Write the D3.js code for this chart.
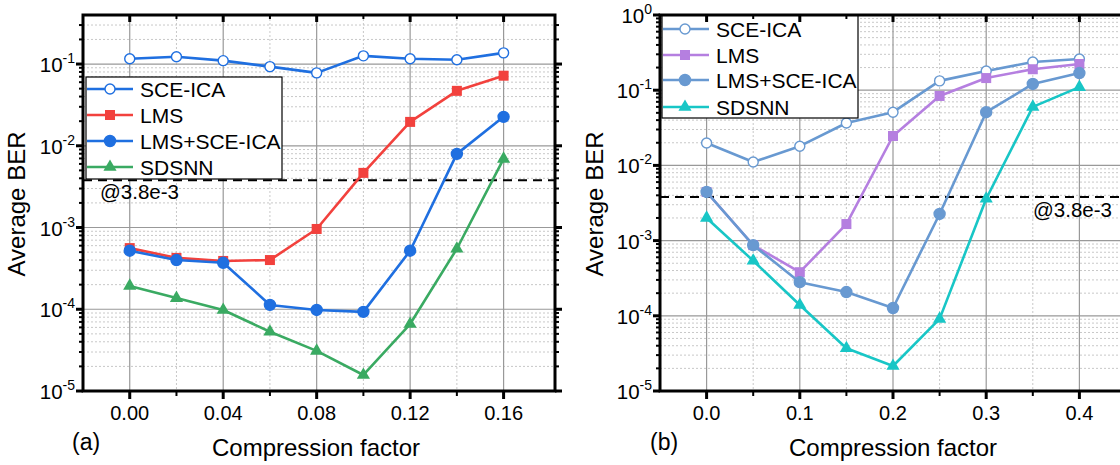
<!DOCTYPE html>
<html><head><meta charset="utf-8">
<script src="https://cdn.jsdelivr.net/npm/d3@7"></script>
<style>body{margin:0;background:#fff}svg{display:block;font-family:"Liberation Sans",Arial,sans-serif}</style>
</head><body>
<svg id="c" width="1120" height="465"></svg>
<script>
// ---- data ----
const seriesNames = ["SCE-ICA", "LMS", "LMS+SCE-ICA", "SDSNN"];
const xA = [0, 0.02, 0.04, 0.06, 0.08, 0.10, 0.12, 0.14, 0.16];
const aSCEICA = [0.116, 0.123, 0.110, 0.093, 0.078, 0.126, 0.116, 0.113, 0.137];
const aLMS = [5.6e-4, 4.25e-4, 3.9e-4, 4.0e-4, 9.6e-4, 4.66e-3, 0.0196, 0.047, 0.072];
const aLMSSCE = [5.2e-4, 4.0e-4, 3.7e-4, 1.13e-4, 9.8e-5, 9.3e-5, 5.2e-4, 7.96e-3, 0.0226];
const aSDSNN = [1.93e-4, 1.37e-4, 9.8e-5, 5.3e-5, 3.1e-5, 1.57e-5, 6.6e-5, 5.5e-4, 6.9e-3];
const xB = [0, 0.05, 0.10, 0.15, 0.20, 0.25, 0.30, 0.35, 0.40];
const bSCEICA = [0.0199, 0.0111, 0.018, 0.0366, 0.051, 0.133, 0.18, 0.237, 0.26];
const bLMS = [4.43e-3, 8.7e-4, 3.8e-4, 1.66e-3, 0.0246, 0.0838, 0.145, 0.19, 0.223];
const bLMSSCE = [4.43e-3, 8.7e-4, 2.8e-4, 2.07e-4, 1.27e-4, 2.26e-3, 0.051, 0.121, 0.169];
const bSDSNN = [2.0e-3, 5.4e-4, 1.39e-4, 3.7e-5, 2.15e-5, 9.1e-5, 3.6e-3, 0.06, 0.11];
const threshold = 3.8e-3;
const thresholdLabel = "@3.8e-3";
const xTicksA = [0, 0.04, 0.08, 0.12, 0.16];
const xMinorA = [0.02, 0.06, 0.10, 0.14];
const xTicksB = [0, 0.1, 0.2, 0.3, 0.4];
const xMinorB = [0.05, 0.15, 0.25, 0.35];
const yExpA = [-5, -4, -3, -2, -1];
const yExpB = [-5, -4, -3, -2, -1, 0];

const svg = d3.select("#c");

function panel(o) {
  const g = svg.append("g");
  const x = d3.scaleLinear().domain(o.xDomain).range([o.left, o.right]);
  const y = d3.scaleLog().domain(o.yDomain).range([o.bottom, o.top]);
  const [lo, hi] = o.yDomain;
  const minorY = [];
  for (let e = Math.floor(Math.log10(lo)); e <= Math.ceil(Math.log10(hi)); e++) {
    for (let k = 2; k <= 9; k++) { const v = k * Math.pow(10, e); if (v > lo && v < hi * 1.0001) minorY.push(v); }
  }
  const majorY = o.yExp.map(e => Math.pow(10, e));
  const cid = "clip" + o.id;
  svg.append("clipPath").attr("id", cid).append("rect")
    .attr("x", o.left).attr("y", o.top).attr("width", o.right - o.left).attr("height", o.bottom - o.top);
  const pg = g.append("g").attr("clip-path", `url(#${cid})`);
  pg.selectAll(".gym").data(minorY).enter().append("line")
    .attr("x1", o.left).attr("x2", o.right).attr("y1", d => y(d)).attr("y2", d => y(d))
    .attr("stroke", "#c8c8c8").attr("stroke-width", 1).attr("stroke-dasharray", "2,2");
  pg.selectAll(".gxm").data(o.xMinor).enter().append("line")
    .attr("y1", o.top).attr("y2", o.bottom).attr("x1", d => x(d)).attr("x2", d => x(d))
    .attr("stroke", "#c8c8c8").attr("stroke-width", 1).attr("stroke-dasharray", "2,2");
  pg.selectAll(".gyM").data(majorY).enter().append("line")
    .attr("x1", o.left).attr("x2", o.right).attr("y1", d => y(d)).attr("y2", d => y(d))
    .attr("stroke", "#999").attr("stroke-width", 1.2);
  pg.selectAll(".gxM").data(o.xTicks).enter().append("line")
    .attr("y1", o.top).attr("y2", o.bottom).attr("x1", d => x(d)).attr("x2", d => x(d))
    .attr("stroke", "#999").attr("stroke-width", 1.2);
  pg.append("line").attr("x1", o.left).attr("x2", o.right)
    .attr("y1", y(threshold)).attr("y2", y(threshold))
    .attr("stroke", "#000").attr("stroke-width", 2).attr("stroke-dasharray", "9,6");
  const line = d3.line().x(d => x(d[0])).y(d => y(d[1]));
  o.series.forEach(s => {
    const pts = o.xs.map((xv, i) => [xv, s.values[i]]);
    pg.append("path").datum(pts).attr("d", line).attr("fill", "none")
      .attr("stroke", s.color).attr("stroke-width", 2.6).attr("stroke-linejoin", "round");
    pts.forEach(p => marker(pg, s, x(p[0]), y(p[1])));
  });
  const L = o.legend;
  g.append("rect").attr("x", L.x).attr("y", L.y).attr("width", L.w).attr("height", L.h)
    .attr("fill", "#fff").attr("stroke", "#000").attr("stroke-width", 1.2);
  o.series.forEach((s, i) => {
    const cy = L.rows[i];
    g.append("line").attr("x1", L.x + 1).attr("x2", L.lineEnd).attr("y1", cy).attr("y2", cy)
      .attr("stroke", s.color).attr("stroke-width", 2.6);
    marker(g, s, L.mx, cy);
    g.append("text").attr("x", L.tx).attr("y", cy + 7.5).attr("font-size", 21).attr("fill", "#000").text(s.name);
  });
  g.append("text").attr("x", o.thrLabel.x).attr("y", o.thrLabel.y).attr("font-size", 20.5)
    .attr("text-anchor", o.thrLabel.anchor).text(thresholdLabel);
  const ax = g.append("g");
  ax.append("rect").attr("x", o.left).attr("y", o.top).attr("width", o.right - o.left).attr("height", o.bottom - o.top)
    .attr("fill", "none").attr("stroke", "#000").attr("stroke-width", 3);
  const tick = (x1, y1, x2, y2, w) => ax.append("line").attr("x1", x1).attr("y1", y1).attr("x2", x2).attr("y2", y2)
    .attr("stroke", "#000").attr("stroke-width", w);
  o.xTicks.forEach(t => { tick(x(t), o.bottom, x(t), o.bottom + 8, 3); tick(x(t), o.top, x(t), o.top + 7, 3); });
  o.xMinor.forEach(t => { tick(x(t), o.bottom, x(t), o.bottom + 5, 2); tick(x(t), o.top, x(t), o.top + 4, 2); });
  majorY.forEach(v => { tick(o.left, y(v), o.left - 7, y(v), 3); tick(o.right, y(v), o.right + 7, y(v), 3); });
  minorY.forEach(v => { tick(o.left, y(v), o.left - 4, y(v), 2); tick(o.right, y(v), o.right + 4, y(v), 2); });
  ax.selectAll(".xl").data(o.xTicks).enter().append("text")
    .attr("x", d => x(d)).attr("y", o.bottom + 29).attr("text-anchor", "middle").attr("font-size", 20)
    .text(d => d3.format(o.xFmt)(d));
  o.yExp.forEach(e => {
    const t = ax.append("text").attr("x", o.left - 8).attr("y", y(Math.pow(10, e)) + 8).attr("text-anchor", "end").attr("font-size", 20.5);
    t.append("tspan").text("10");
    t.append("tspan").attr("font-size", 14).attr("dy", -9).text(String(e));
  });
  g.append("text").attr("transform", `translate(${o.yTitleX},204) rotate(-90)`).attr("text-anchor", "middle")
    .attr("font-size", 24).text("Average BER");
  g.append("text").attr("x", (o.titleCx)).attr("y", 456).attr("text-anchor", "middle").attr("font-size", 24)
    .text("Compression factor");
  g.append("text").attr("x", o.tag.x).attr("y", 450).attr("font-size", 23).text(o.tag.t);
}

function marker(g, s, cx, cy) {
  if (s.shape === "circle" || s.shape === "open") {
    g.append("circle").attr("cx", cx).attr("cy", cy).attr("r", s.shape === "open" ? 5 : 5.5)
      .attr("fill", s.shape === "open" ? "#fff" : s.color).attr("stroke", s.color).attr("stroke-width", 1.4);
  } else if (s.shape === "square") {
    g.append("rect").attr("x", cx - 5).attr("y", cy - 5).attr("width", 10).attr("height", 10).attr("fill", s.color);
  } else {
    g.append("path").attr("d", d3.symbol(d3.symbolTriangle, 75)()).attr("transform", `translate(${cx},${cy})`).attr("fill", s.color);
  }
}

panel({
  id: "a", left: 83, right: 555, top: 15, bottom: 391,
  xDomain: [-0.02, 0.182], yDomain: [1e-5, Math.pow(10, -0.4)], yExp: yExpA,
  xTicks: xTicksA, xMinor: xMinorA, xFmt: ".2f", xs: xA,
  series: [
    { name: seriesNames[0], values: aSCEICA, color: "#1f6fe0", shape: "open" },
    { name: seriesNames[1], values: aLMS, color: "#f2413d", shape: "square" },
    { name: seriesNames[2], values: aLMSSCE, color: "#1f6fe0", shape: "circle" },
    { name: seriesNames[3], values: aSDSNN, color: "#3aaa62", shape: "triangle" }
  ],
  legend: { x: 86, y: 77, w: 196, h: 102, rows: [89, 115, 141, 167], lineEnd: 133, mx: 110, tx: 140 },
  thrLabel: { x: 100, y: 199, anchor: "start" },
  yTitleX: 25, titleCx: 316, tag: { x: 72, t: "(a)" }
});
panel({
  id: "b", left: 660, right: 1126, top: 15, bottom: 391,
  xDomain: [-0.05, 0.45], yDomain: [1e-5, 1], yExp: yExpB,
  xTicks: xTicksB, xMinor: xMinorB, xFmt: ".1f", xs: xB,
  series: [
    { name: seriesNames[0], values: bSCEICA, color: "#6899d1", shape: "open" },
    { name: seriesNames[1], values: bLMS, color: "#b57fe0", shape: "square" },
    { name: seriesNames[2], values: bLMSSCE, color: "#6899d1", shape: "circle" },
    { name: seriesNames[3], values: bSDSNN, color: "#18c6c6", shape: "triangle" }
  ],
  legend: { x: 662, y: 15, w: 196, h: 103, rows: [29, 55, 80, 107], lineEnd: 709, mx: 685, tx: 716 },
  thrLabel: { x: 1112, y: 217, anchor: "end" },
  yTitleX: 603, titleCx: 893, tag: { x: 650, t: "(b)" }
});
</script>
</body></html>
